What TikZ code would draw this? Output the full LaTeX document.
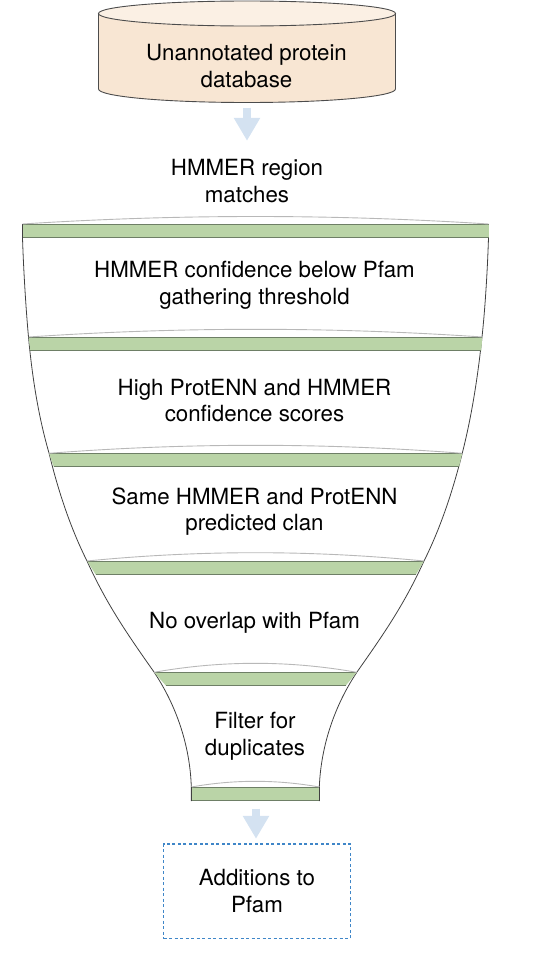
\documentclass[tikz,border=0pt]{standalone}
\usepackage{fontspec}
\setmainfont{TeX Gyre Heros}
\usetikzlibrary{arrows.meta}
\definecolor{dbfill}{HTML}{F8E6D3}
\definecolor{dbtop}{HTML}{FBF0E4}
\definecolor{barfill}{HTML}{BAD4A7}
\definecolor{barline}{HTML}{6E7F66}
\definecolor{arcline}{HTML}{B8B8B8}
\definecolor{flow}{HTML}{D4E2F1}
\definecolor{dash}{HTML}{3F86C8}
\tikzset{
  x=1pt,y=-1pt,
  label text/.style={align=center,font=\fontsize{22.3}{26.6}\selectfont,text=black,inner sep=0pt},
  funnel edge/.style={draw=black!75,line width=0.8pt},
  block flow/.style={draw=flow,line width=8pt,-{Triangle[width=25pt,length=23pt]}},
  bar shape/.style={fill=barfill,draw=none},
  bar rule/.style={draw=barline,line width=0.9pt},
  bar arc/.style={draw=arcline,line width=0.9pt},
}
\newcommand{\funnelbar}[7]{% ytop ybot xtl xtr xbl xbr peak
  \path[bar shape] (#3,#1) -- (#4,#1) -- (#6,#2) -- (#5,#2) -- cycle;
  \draw[bar rule] (#3,#1) -- (#4,#1);
  \draw[bar rule] (#5,#2) -- (#6,#2);
  \draw[bar arc] (#3,#1) .. controls ({#3+(#4-#3)/3},{#1-(#1-#7)*4/3}) and ({#4-(#4-#3)/3},{#1-(#1-#7)*4/3}) .. (#4,#1);
}
\begin{document}
\begin{tikzpicture}
\useasboundingbox (0,0) rectangle (556,964);
% database cylinder
\draw[fill=dbfill,draw=black!70,line width=0.9pt] (98.5,13.5) -- (98.5,89) .. controls (98.5,96.5) and (165,102.5) .. (247,102.5) .. controls (329,102.5) and (395.5,96.5) .. (395.5,89) -- (395.5,13.5) -- cycle;
\draw[fill=dbtop,draw=black!70,line width=0.9pt] (247,13.5) ellipse [x radius=148.5,y radius=12.5];
\node[label text,minimum width=297pt,minimum height=101pt] (db) at (247,52) {};
\node[label text] (dbtext) at (246.5,66) {Unannotated protein\\database};
\node[label text,minimum height=62pt] (hm) at (247,181) {HMMER region\\matches};
\draw[block flow,shorten <=5pt,shorten >=9pt] (db.south) -- (hm.north);
% funnel sides
\draw[funnel edge] (22.5,224) -- (22.5,237.5) .. controls (23.5,270) and (26,310) .. (28.5,337) .. controls (32,375) and (38,415) .. (49,453) .. controls (58,490) and (70,527) .. (87,561) .. controls (107,605) and (128,635) .. (154,672) .. controls (176,705) and (190,745) .. (191.3,787) -- (191.3,801);
\draw[funnel edge] (488.5,224) -- (488.5,237.5) .. controls (487.5,270) and (485,310) .. (482,337) .. controls (478,375) and (472,415) .. (462.3,453) .. controls (453,490) and (441,527) .. (424,561) .. controls (404,605) and (383,635) .. (357,672) .. controls (335,705) and (321,745) .. (319.3,787) -- (319.3,801);
% filter bars
\funnelbar{224}{237.5}{22.5}{488.5}{22.5}{488.5}{216.5}
\funnelbar{337}{350.5}{28.7}{482.3}{30.3}{481.3}{329.3}
\funnelbar{453.3}{466.7}{49}{462.3}{53.7}{459}{445.3}
\funnelbar{561}{574.5}{87}{424}{95.7}{416}{552.7}
\funnelbar{672.3}{685.3}{154}{356.7}{165.7}{346}{663.3}
\funnelbar{787}{800.7}{191.3}{319.3}{191.3}{319.3}{781.3}
\draw[funnel edge] (191.3,787) -- (191.3,801);
\draw[funnel edge] (319.3,787) -- (319.3,801);
% labels
\node[label text] (t1) at (254.5,285.5) {HMMER confidence below Pfam\\gathering threshold};
\node[label text] (t2) at (254.5,400.5) {High ProtENN and HMMER\\confidence scores};
\node[label text] (t3) at (254.5,511.5) {Same HMMER and ProtENN\\predicted clan};
\node[label text] (t4) at (254.5,623) {No overlap with Pfam};
\node[label text] (t5) at (255,736.5) {Filter for\\duplicates};
% result
\node[label text,draw=dash,dashed,dash pattern=on 3pt off 2.5pt,line width=1.3pt,minimum width=186.6pt,minimum height=94.7pt] (res) at (257,891.3) {Additions to\\Pfam};
\coordinate (outlet) at (256,800.7);
\draw[block flow,shorten <=8pt,shorten >=4.5pt] (outlet) -- (outlet |- res.north);
\end{tikzpicture}
\end{document}
